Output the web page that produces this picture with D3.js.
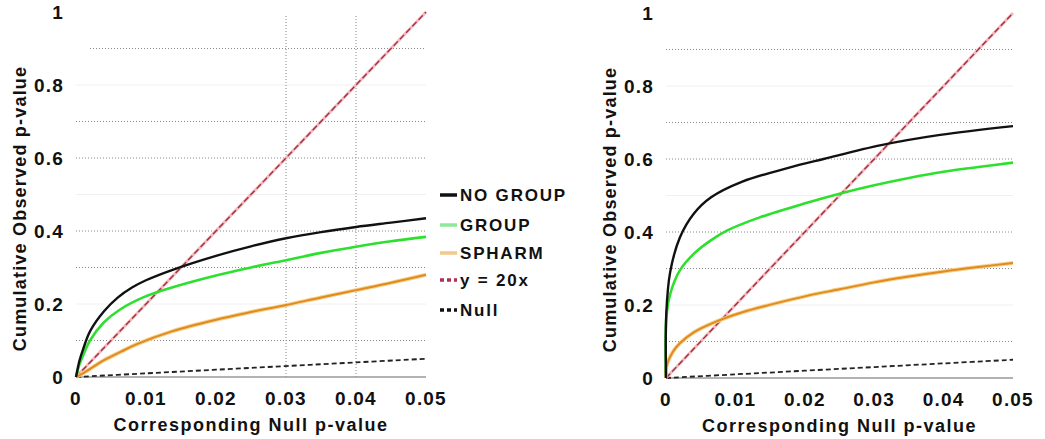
<!DOCTYPE html>
<html>
<head>
<meta charset="utf-8">
<script src="https://cdn.jsdelivr.net/npm/d3@7"></script>
<style>
  body { margin: 0; background: #fff; }
  text { font-family: "Liberation Sans", Arial, sans-serif; font-weight: bold; fill: #111; }
</style>
</head>
<body>
<div id="chart"></div>
<script>
const width = 1045;
const height = 439;

// null p-value (x) vs cumulative observed p-value (y)
const xTicks = [0, 0.01, 0.02, 0.03, 0.04, 0.05];
const xTickLabels = ['0', '0.01', '0.02', '0.03', '0.04', '0.05'];
const yTicks = [0, 0.2, 0.4, 0.6, 0.8, 1];
const yTickLabels = ['0', '0.2', '0.4', '0.6', '0.8', '1'];

const leftNoGroup = [[0,0],[0.0005,0.045],[0.001,0.075],[0.002,0.125],[0.004,0.18],[0.006,0.218],[0.008,0.245],[0.01,0.265],[0.014,0.295],[0.02,0.332],[0.025,0.358],[0.03,0.38],[0.035,0.397],[0.04,0.411],[0.045,0.423],[0.05,0.435]];
const leftGroup = [[0,0],[0.0005,0.035],[0.001,0.058],[0.002,0.1],[0.004,0.15],[0.0063,0.185],[0.0096,0.218],[0.0137,0.245],[0.02,0.278],[0.025,0.3],[0.03,0.32],[0.035,0.34],[0.04,0.357],[0.045,0.372],[0.05,0.384]];
const leftSpharm = [[0,0],[0.001,0.01],[0.002,0.022],[0.004,0.046],[0.0065,0.07],[0.0087,0.09],[0.0137,0.125],[0.02,0.157],[0.025,0.178],[0.03,0.197],[0.035,0.218],[0.04,0.238],[0.045,0.258],[0.05,0.28]];

const rightNoGroup = [[0,0],[0.00005,0.18],[0.0006,0.29],[0.002,0.385],[0.004,0.45],[0.0065,0.495],[0.011,0.538],[0.0175,0.575],[0.0227,0.6],[0.031,0.638],[0.0395,0.666],[0.05,0.69]];
const rightGroup = [[0,0],[0.00005,0.165],[0.0006,0.23],[0.002,0.295],[0.004,0.34],[0.0063,0.375],[0.0087,0.403],[0.0135,0.44],[0.0203,0.48],[0.025,0.505],[0.03,0.528],[0.035,0.548],[0.04,0.565],[0.045,0.578],[0.05,0.59]];
const rightSpharm = [[0,0],[0.00005,0.03],[0.001,0.072],[0.002,0.095],[0.004,0.125],[0.0073,0.155],[0.011,0.18],[0.0155,0.203],[0.0203,0.225],[0.025,0.243],[0.03,0.262],[0.035,0.278],[0.04,0.292],[0.045,0.304],[0.05,0.315]];

const refLine = [[0,0],[0.05,1]];
const nullLine = [[0,0],[0.01,0.01],[0.02,0.02],[0.03,0.03],[0.04,0.04],[0.05,0.05]];

const legendNames = ['NO GROUP', 'GROUP', 'SPHARM', 'y = 20x', 'Null'];
const legendColors = ['#111', '#8ee89a', '#f2c98a', '#b03050', '#111'];
const legendDash = [null, null, null, '4,3', '4,3'];

const svg = d3.select('#chart').append('svg')
  .attr('width', width)
  .attr('height', height);

function panel(x0, x1, y0, y1, series, vlines, yTitleX) {
  const x = d3.scaleLinear().domain([0, 0.05]).range([x0, x1]);
  const y = d3.scaleLinear().domain([0, 1]).range([y0, y1]);
  const g = svg.append('g');

  // faint grid
  g.selectAll('.fgrid').data([0.2, 0.5, 0.8]).join('line')
    .attr('x1', x0).attr('x2', x1).attr('y1', d => y(d)).attr('y2', d => y(d))
    .attr('stroke', '#f0f0f0').attr('stroke-width', 1);
  g.selectAll('.grid').data([0.1, 0.3, 0.4, 0.6, 0.7, 0.9]).join('line')
    .attr('x1', d => d === 0.9 && vlines.length ? x(0.002) : x0).attr('x2', x1)
    .attr('y1', d => y(d)).attr('y2', d => y(d))
    .attr('stroke', '#888').attr('stroke-width', 1).attr('stroke-dasharray', '1,2');
  g.selectAll('.vgrid').data(vlines).join('line')
    .attr('x1', d => x(d)).attr('x2', d => x(d)).attr('y1', y0).attr('y2', y(0.99))
    .attr('stroke', '#888').attr('stroke-width', 1).attr('stroke-dasharray', '1,2');

  // x axis line
  g.append('line').attr('x1', x0).attr('x2', x1).attr('y1', y0).attr('y2', y0)
    .attr('stroke', '#999').attr('stroke-width', 1.5);

  const line = d3.line().x(d => x(d[0])).y(d => y(d[1])).curve(d3.curveCatmullRom.alpha(0.5));

  g.append('path').attr('d', line(nullLine)).attr('fill', 'none')
    .attr('stroke', '#222').attr('stroke-width', 1.8).attr('stroke-dasharray', '5,3');
  g.append('path').attr('d', line(refLine)).attr('fill', 'none')
    .attr('stroke', '#f4b8b8').attr('stroke-width', 3);
  g.append('path').attr('d', line(refLine)).attr('fill', 'none')
    .attr('stroke', '#a03048').attr('stroke-width', 1.4).attr('stroke-dasharray', '6,3');

  g.append('path').attr('d', line(series[2])).attr('fill', 'none')
    .attr('stroke', '#f6d08a').attr('stroke-width', 4);
  g.append('path').attr('d', line(series[2])).attr('fill', 'none')
    .attr('stroke', '#e08a20').attr('stroke-width', 2);
  g.append('path').attr('d', line(series[1])).attr('fill', 'none')
    .attr('stroke', '#2ee02e').attr('stroke-width', 2.6);
  g.append('path').attr('d', line(series[0])).attr('fill', 'none')
    .attr('stroke', '#111').attr('stroke-width', 2.4);

  // tick labels
  g.selectAll('.xt').data(xTicks).join('text')
    .attr('x', d => x(d)).attr('y', y0 + 28)
    .attr('text-anchor', 'middle').attr('font-size', 19).attr('letter-spacing', 1.2)
    .text((d, i) => xTickLabels[i]);
  g.selectAll('.yt').data(yTicks).join('text')
    .attr('x', x0 - 12).attr('y', d => y(d) + 7)
    .attr('text-anchor', 'end').attr('font-size', 19).attr('letter-spacing', 1.2)
    .text((d, i) => yTickLabels[i]);

  g.append('text')
    .attr('x', (x0 + x1) / 2).attr('y', y0 + 54)
    .attr('text-anchor', 'middle').attr('font-size', 18).attr('letter-spacing', 1.5)
    .text('Corresponding Null p-value');
  g.append('text')
    .attr('transform', `translate(${yTitleX},${(y0 + y1) / 2 + 14}) rotate(-90)`)
    .attr('text-anchor', 'middle').attr('font-size', 18).attr('letter-spacing', 1.2)
    .text('Cumulative Observed p-value');
}

panel(76, 426, 377, 12, [leftNoGroup, leftGroup, leftSpharm], [0.03, 0.04], 26);
panel(666, 1013, 378, 13, [rightNoGroup, rightGroup, rightSpharm], [], 616);

// legend
const lg = svg.append('g').attr('transform', 'translate(440,195)');
const rowY = [0, 30, 58, 85, 115];
legendNames.forEach((name, i) => {
  lg.append('line').attr('x1', 0).attr('x2', 17).attr('y1', rowY[i]).attr('y2', rowY[i])
    .attr('stroke', legendColors[i]).attr('stroke-width', 3.5)
    .attr('stroke-dasharray', legendDash[i]);
  lg.append('text').attr('x', 20).attr('y', rowY[i] + 6)
    .attr('font-size', 17).attr('letter-spacing', 1.8).text(name);
});
</script>
</body>
</html>
